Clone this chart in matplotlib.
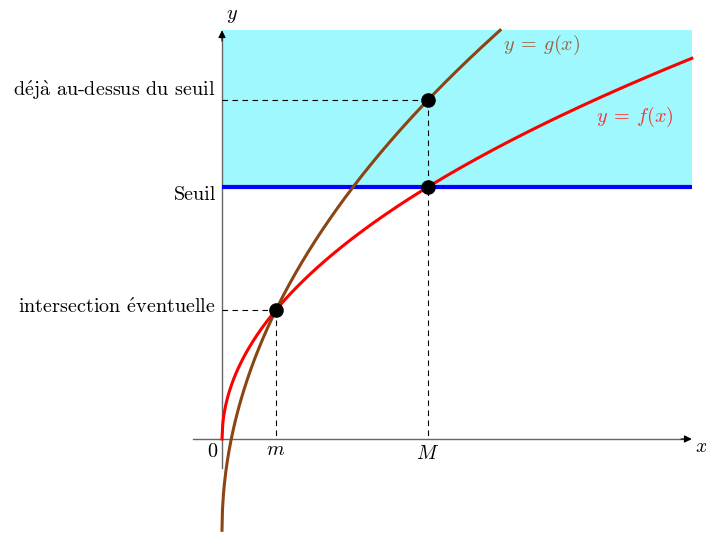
import numpy as np
import matplotlib
matplotlib.use("Agg")
import matplotlib.pyplot as plt

plt.rcParams['font.family'] = ['cmr10', 'DejaVu Serif']
plt.rcParams['mathtext.fontset'] = 'cm'
plt.rcParams['axes.unicode_minus'] = False

# model: f(x) = a*sqrt(x), g(x) = k*sqrt(x) - d  (they meet at x = m = 1)
A_F = 2.39
K_G = 4.08
D_G = K_G - A_F
SEUIL = 4.667
X_END = 8.70
Y_TOP = 7.57
m_val = 1.0
M_val = (SEUIL / A_F) ** 2

# accents drawn with mathtext since cmr10 has no accented glyphs
y_labels = [r"d$\mathrm{\acute{e}}$j$\mathrm{\grave{a}}$ au-dessus du seuil",
            "Seuil",
            r"intersection $\mathrm{\acute{e}}$ventuelle"]
x_labels = ["0", "$m$", "$M$"]


def f(x):
    return A_F * np.sqrt(x)


def g(x):
    return K_G * np.sqrt(x) - D_G


PX = 54.0  # pixels per unit
fig = plt.figure(figsize=(7.06, 5.36), dpi=100)
ax = fig.add_axes([0, 0, 1, 1])
ax.set_xlim(-222 / PX, (706 - 222) / PX)
ax.set_ylim(-(536 - 439) / PX, 439 / PX)
ax.axis('off')

# shaded zone above threshold
ax.fill_between([0, X_END], SEUIL, Y_TOP, color='#9ff8fd', lw=0, zorder=0)
ax.plot([0, X_END], [SEUIL, SEUIL], color='#0000ff', lw=3.0, zorder=3, solid_capstyle='butt')

# axes
gray = '#666666'
ax.plot([-29 / PX, X_END - 0.05], [0, 0], color=gray, lw=1.0, zorder=2)
ax.plot([0, 0], [-29 / PX, Y_TOP - 0.05], color=gray, lw=1.0, zorder=2)
ax.annotate('', xy=(X_END, 0), xytext=(X_END - 0.2, 0),
            arrowprops=dict(arrowstyle='-|>', color='black', lw=0.8,
                            mutation_scale=11, shrinkA=0, shrinkB=0))
ax.annotate('', xy=(0, Y_TOP), xytext=(0, Y_TOP - 0.2),
            arrowprops=dict(arrowstyle='-|>', color='black', lw=0.8,
                            mutation_scale=11, shrinkA=0, shrinkB=0))

# curves
xf = np.linspace(0, X_END, 600)
ax.plot(xf, f(xf), color='#ff0000', lw=2.2, zorder=4)
xg_end = ((Y_TOP + D_G) / K_G) ** 2
xg = np.linspace(0, xg_end, 600)
ax.plot(xg, g(xg), color='#8b4513', lw=2.2, zorder=4)

# dashed guides
dash = dict(color='black', lw=0.8, ls=(0, (5, 4)), zorder=3)
ax.plot([0, m_val], [f(m_val), f(m_val)], **dash)
ax.plot([m_val, m_val], [f(m_val), 0], **dash)
ax.plot([0, M_val], [g(M_val), g(M_val)], **dash)
ax.plot([M_val, M_val], [g(M_val), 0], **dash)

# points
ax.plot([m_val, M_val, M_val], [f(m_val), f(M_val), g(M_val)], 'o',
        color='black', ms=9.5, zorder=6)

fs = 14.5
off = -6 / PX
ax.text(off, g(M_val) + 4 / PX, y_labels[0], ha='right', va='baseline', fontsize=fs)
ax.text(off, SEUIL - 13 / PX, y_labels[1], ha='right', va='baseline', fontsize=fs)
ax.text(off, f(m_val) - 3 / PX, y_labels[2], ha='right', va='baseline', fontsize=fs)

ax.text(-10 / PX, -13 / PX, x_labels[0], ha='center', va='center', fontsize=fs)
ax.text(m_val, -11 / PX, x_labels[1], ha='center', va='center', fontsize=fs)
ax.text(M_val, -15 / PX, x_labels[2], ha='center', va='center', fontsize=fs)
ax.text(X_END + 3 / PX, -8 / PX, '$x$', ha='left', va='center', fontsize=fs)
ax.text(10 / PX, Y_TOP + 14 / PX, '$y$', ha='center', va='center', fontsize=fs)

ax.text(xg_end + 3 / PX, Y_TOP - 15 / PX, r'$y\:=\:g(x)$', color='#9a6440',
        ha='left', va='center', fontsize=fs)
ax.text(X_END - 18 / PX, 381 / PX - 59 / PX, r'$y\:=\:f(x)$', color='#ff3030',
        ha='right', va='center', fontsize=fs)

fig.savefig("out.png", dpi=100)
